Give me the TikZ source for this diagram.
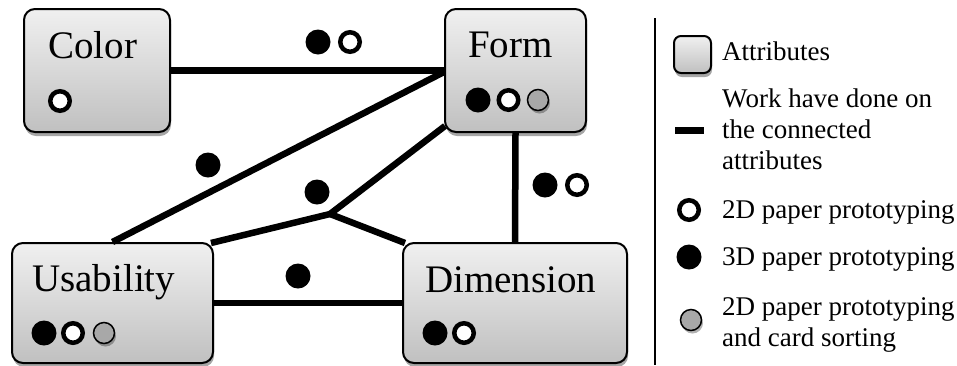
\documentclass[tikz,border=0pt]{standalone}
\usepackage{fontspec}
\setmainfont{Liberation Serif}
\usetikzlibrary{shadows}
\definecolor{boxtop}{RGB}{240,240,240}
\definecolor{boxbot}{RGB}{192,192,192}
\definecolor{dotgray}{RGB}{168,168,168}
\tikzset{
  attr/.style={draw=black, line width=2pt, rounded corners=11pt, top color=boxtop, bottom color=boxbot,
    drop shadow={shadow xshift=1pt, shadow yshift=-4pt, opacity=0.35, fill=black}, inner sep=0pt},
  lbl/.style={anchor=base west, inner sep=0pt, font=\fontsize{39}{44}\selectfont},
  leg/.style={anchor=base west, inner sep=0pt, font=\fontsize{27}{31}\selectfont},
  conn/.style={line width=6.5pt, black},
  bdot/.style={circle, fill=black, inner sep=0pt, minimum size=25pt},
  wdot/.style={circle, draw=black, line width=4.5pt, fill=white, inner sep=0pt, minimum size=19.5pt},
  gdot/.style={circle, draw=black, line width=1.5pt, fill=dotgray, inner sep=0pt, minimum size=21pt,
    drop shadow={shadow xshift=1.5pt, shadow yshift=-3pt, opacity=0.3, fill=black}},
}
\begin{document}
\begin{tikzpicture}[x=1pt, y=-1pt]
\useasboundingbox (0,0) rectangle (957,365);
% boxes
\node[attr, minimum width=146pt, minimum height=123pt] (color) at (97,70.5) {};
\node[attr, minimum width=141pt, minimum height=123pt] (form) at (515.5,70.5) {};
\node[attr, minimum width=201pt, minimum height=120pt] (usab) at (112.5,303) {};
\node[attr, minimum width=224pt, minimum height=120pt] (dim) at (515,303) {};
% labels
\node[lbl] (tcolor) at (48,58) {Color};
\node[lbl] (tform) at (468,57) {Form};
\node[lbl] (tusab) at (32,291) {Usability};
\node[lbl] (tdim) at (425,292) {Dimension};
% connectors
\coordinate (j) at (330,214);
\draw[conn] (color.east) -- (form.west);
\draw[conn] ([yshift=-1.5pt]form.west) -- (usab.north);
\draw[conn] ([xshift=1pt,yshift=7pt]form.south west) -- (j);
\draw[conn] (j) -- ([xshift=-3pt,yshift=-1pt]usab.north east);
\draw[conn] (j) -- ([xshift=3pt,yshift=-1pt]dim.north west);
\draw[conn] (form.south) -- (dim.north);
\draw[conn] (usab.east) -- (dim.west);
% dots inside boxes
\node[wdot] (c1) at (60,101) {};
\node[bdot] (f1) at (478,100) {};
\node[wdot] (f2) at (508.5,100) {};
\node[gdot] (f3) at (538,100) {};
\node[bdot] (u1) at (44,333) {};
\node[wdot] (u2) at (73,333) {};
\node[gdot] (u3) at (104,333) {};
\node[bdot] (d1) at (435,333) {};
\node[wdot] (d2) at (464,333) {};
% dots on connectors
\node[bdot] (cf1) at (318,42) {};
\node[wdot] (cf2) at (350,42) {};
\node[bdot] (fu1) at (208,165) {};
\node[bdot] (fj1) at (317,192) {};
\node[bdot] (fd1) at (545,185) {};
\node[wdot] (fd2) at (577,185) {};
\node[bdot] (ud1) at (298,276) {};
% legend
\draw[line width=2pt] (655,18) coordinate (sep1) -- (655,365) coordinate (sep2);
\node[attr, rounded corners=7pt, line width=2pt, minimum width=37pt, minimum height=37pt] (lbox) at (692.5,54.5) {};
\node[leg] (lattr) at (722,60) {Attributes};
\node[draw=black, fill=black, inner sep=0pt, minimum width=28pt, minimum height=6pt] (ldash) at (689,130) {};
\node[leg, anchor=west, align=left] (lwork) at (722,129) {Work have done on\\the connected\\attributes};
\node[wdot] (lw) at (689,210) {};
\node[leg] (l2d) at (722,218) {2D paper prototyping};
\node[bdot] (lb) at (689,257) {};
\node[leg] (l3d) at (722,265) {3D paper prototyping};
\node[gdot] (lg) at (691,320) {};
\node[leg, anchor=west, align=left] (l2dc) at (722,325) {2D paper prototyping\\and card sorting};
\end{tikzpicture}
\end{document}
